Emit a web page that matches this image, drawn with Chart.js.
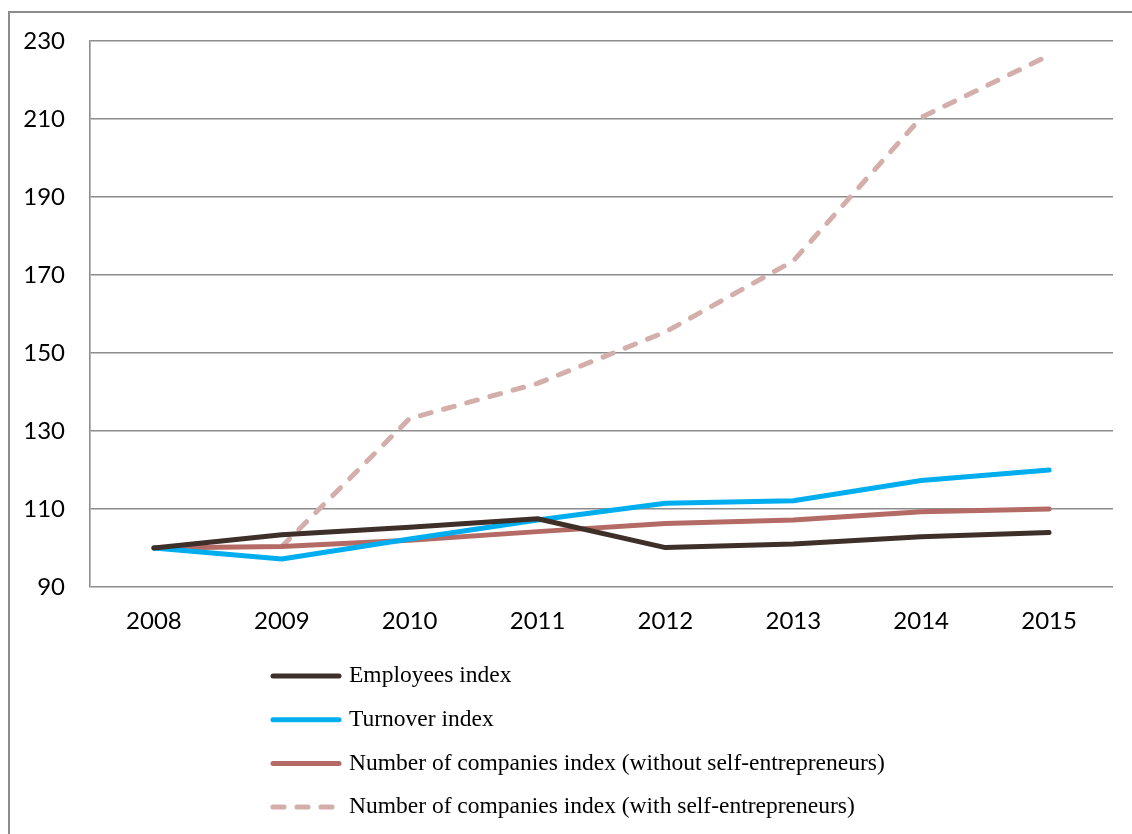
<!DOCTYPE html>
<html>
<head>
<meta charset="utf-8">
<script src="https://cdn.jsdelivr.net/npm/chart.js@4/dist/chart.umd.min.js"></script>
<style>
	html, body { margin: 0; padding: 0; background: #fff; overflow: hidden; }
	#frame {
		position: absolute; left: 8px; top: 11px; width: 1200px; height: 900px;
		border-left: 2px solid #8c8c8c; border-top: 2px solid #8c8c8c;
	}
	#hook { position: absolute; left: 0; top: 0; width: 1132px; height: 834px; }
</style>
</head>
<body>
<div id="frame"></div>
<div id="hook"><canvas id="lines"></canvas></div>
<script>
const years = ['2008', '2009', '2010', '2011', '2012', '2013', '2014', '2015'];
const employees = [100, 103.4, 105.3, 107.5, 100.1, 101, 102.9, 104];
const turnover = [100, 97.2, 102.3, 107.2, 111.5, 112.1, 117.3, 120];
const companies = [100, 100.4, 102, 104.2, 106.3, 107.2, 109.3, 110];
const companiesSelf = [null, 100.4, 133.2, 142.2, 155.4, 173.6, 210.4, 226.3];
const yTicks = [90, 110, 130, 150, 170, 190, 210, 230];

const GRID = '#8c8c8c';

//legend drawn as a single column under the axis
const seriesKey = {
	id: 'seriesKey',
	afterDraw: (chart) => {
		let {ctx, chartArea} = chart;
		ctx.save();
		ctx.font = '23.5px "Liberation Serif"';
		ctx.textBaseline = 'middle';
		chart.data.datasets.forEach((ds, i) => {
			let y = chartArea.bottom + 89 + i * 43.7;
			ctx.strokeStyle = ds.borderColor;
			ctx.lineWidth = 5;
			ctx.lineCap = 'round';
			ctx.setLineDash(ds.borderDash || []);
			ctx.beginPath();
			ctx.moveTo(273, y);
			ctx.lineTo(339, y);
			ctx.stroke();
			ctx.setLineDash([]);
			ctx.fillStyle = '#000';
			ctx.fillText(ds.label, 349, y);
		});
		ctx.restore();
	}
};

const line = (label, data, color, dash) => ({
	label: label,
	data: data,
	borderColor: color,
	backgroundColor: color,
	borderWidth: 5,
	borderDash: dash,
	borderCapStyle: 'round',
	borderJoinStyle: 'round',
	pointRadius: 0,
	tension: 0,
	spanGaps: false
});

let ctx = document.querySelector('#lines').getContext('2d');

let chart = new Chart(ctx, {
	type: 'line',
	plugins: [seriesKey],
	data: {
		labels: years,
		datasets: [
			line('Employees index', employees, '#3e2f29', undefined),
			line('Turnover index', turnover, '#00aeef', undefined),
			line('Number of companies index (without self-entrepreneurs)', companies, '#b46b65', undefined),
			line('Number of companies index (with self-entrepreneurs)', companiesSelf, '#d4aeaa', [11, 13])
		]
	},
	options: {
		responsive: true,
		maintainAspectRatio: false,
		animation: false,
		layout: {padding: {top: 41, right: 19, bottom: 187, left: 0}},
		plugins: {
			legend: {display: false},
			tooltip: {enabled: false}
		},
		scales: {
			x: {
				offset: true,
				grid: {display: false, drawTicks: false},
				border: {display: false},
				ticks: {
					color: '#000',
					padding: 20,
					maxRotation: 0,
					font: {family: 'Lato', size: 24}
				},
				afterFit: (scale) => { scale.height = 60; }
			},
			y: {
				min: 90,
				max: 230,
				afterBuildTicks: (scale) => { scale.ticks = yTicks.map(v => ({value: v})); },
				grid: {color: GRID, lineWidth: 1.6, drawTicks: false},
				border: {display: true, color: GRID, width: 1.6},
				ticks: {
					color: '#000',
					padding: 25,
					font: {family: 'Lato', size: 24}
				},
				afterFit: (scale) => { scale.width = 90; }
			}
		}
	}
});
</script>
</body>
</html>
